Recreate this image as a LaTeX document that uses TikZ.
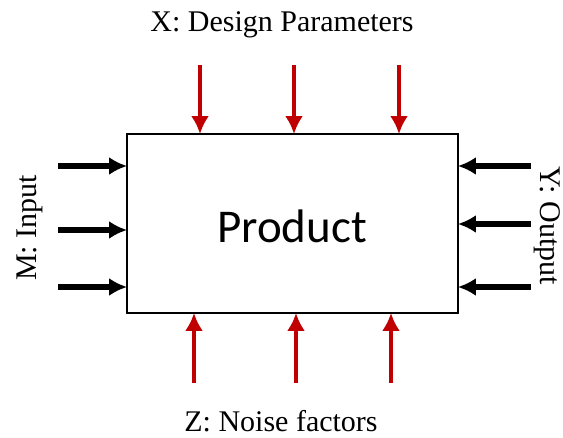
\documentclass[tikz,border=0pt]{standalone}
\usepackage{fontspec}
\setmainfont{Liberation Serif}
\newfontfamily\prodfont{Carlito}
\usetikzlibrary{arrows.meta}
\definecolor{arrowred}{HTML}{C00000}
\tikzset{
  box/.style={draw=black, line width=1.8pt, fill=white, minimum width=331pt, minimum height=179pt, inner sep=0pt},
  redarrow/.style={draw=arrowred, line width=4.5pt, -{Latex[length=18pt,width=18pt]}, shorten >=-1pt},
  blackarrow/.style={draw=black, line width=5.5pt, -{Latex[length=18pt,width=18pt]}, shorten >=-1pt},
  lbl/.style={font=\fontsize{30}{36}\selectfont, inner sep=0pt}
}
\begin{document}
\begin{tikzpicture}[x=1pt,y=-1pt]
  \useasboundingbox (0,0) rectangle (563,438);
  % the product block
  \node[box] (prod) at (292.5,223.5) {};
  \node[font=\prodfont\fontsize{47}{56}\selectfont] (ptext) at (292,226) {Product};

  % design parameters (top, red)
  \node[lbl] (xlab) at (282,25) {X: Design Parameters};
  \coordinate (t1) at (200,65);
  \coordinate (t2) at (294,65);
  \coordinate (t3) at (399,65);
  \foreach \c in {t1,t2,t3} \draw[redarrow] (\c) -- (\c |- prod.north);

  % noise factors (bottom, red)
  \node[lbl] (zlab) at (281,421) {Z: Noise factors};
  \coordinate (b1) at (194,383);
  \coordinate (b2) at (296,383);
  \coordinate (b3) at (391,383);
  \foreach \c in {b1,b2,b3} \draw[redarrow] (\c) -- (\c |- prod.south);

  % inputs (left, black)
  \node[lbl, rotate=90] (mlab) at (30,228) {M: Input};
  \coordinate (l1) at (58,166);
  \coordinate (l2) at (58,230);
  \coordinate (l3) at (58,287);
  \foreach \c in {l1,l2,l3} \draw[blackarrow] (\c) -- (\c -| prod.west);

  % outputs (right, black, pointing at the block)
  \node[lbl, rotate=-90] (ylab) at (547,226) {Y: Output};
  \coordinate (r1) at (531,166);
  \coordinate (r2) at (531,224);
  \coordinate (r3) at (531,287);
  \foreach \c in {r1,r2,r3} \draw[blackarrow] (\c) -- (\c -| prod.east);
\end{tikzpicture}
\end{document}
